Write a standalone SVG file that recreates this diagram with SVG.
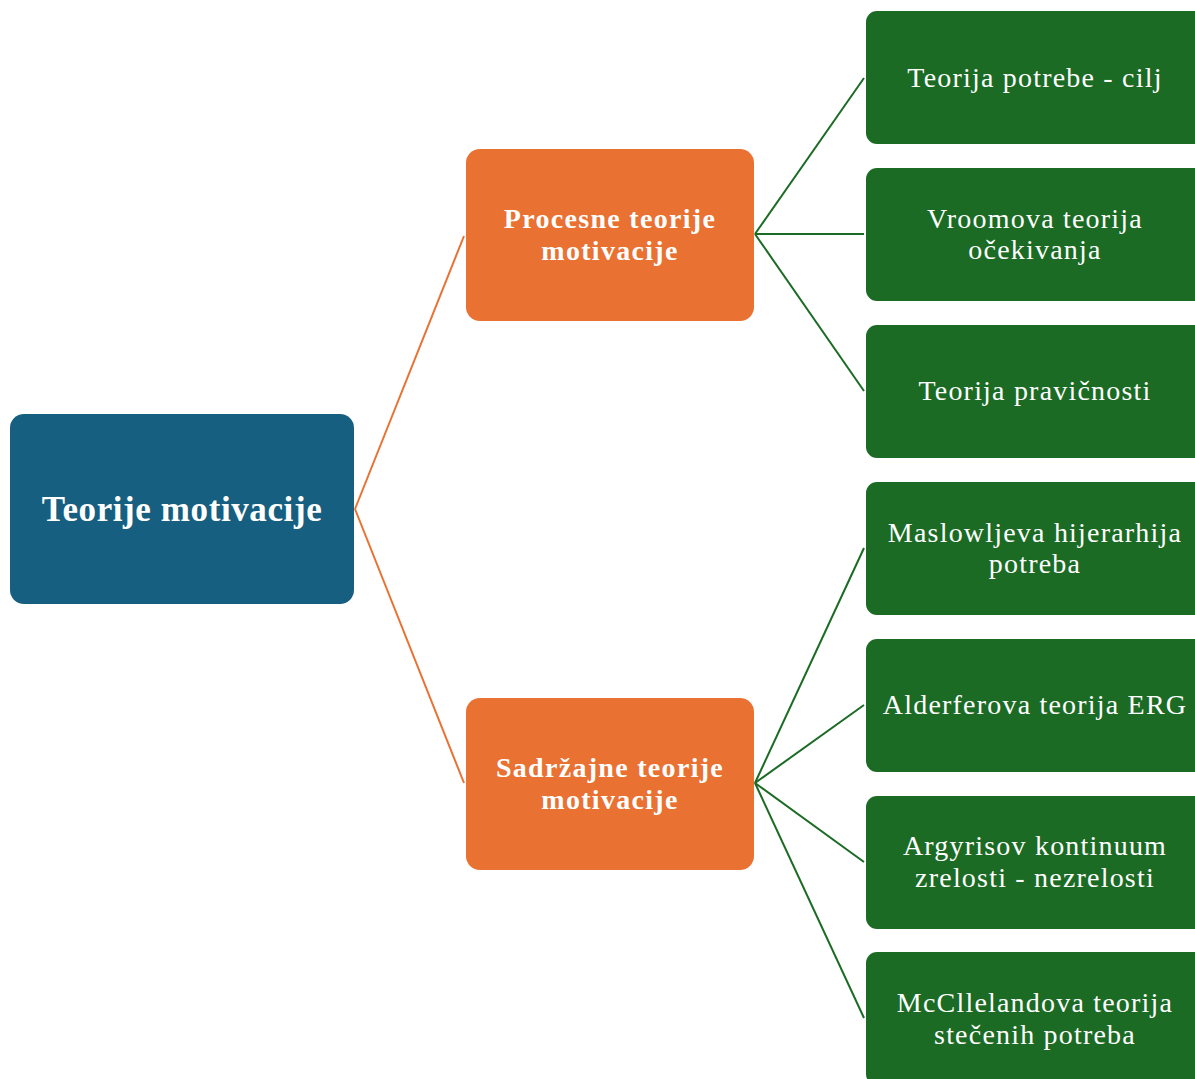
<svg xmlns="http://www.w3.org/2000/svg" width="1195" height="1079" viewBox="0 0 1195 1079">
<style>
.root{fill:#175F80}
.mid{fill:#E97132}
.leaf{fill:#1B6B24}
text{font-family:"Liberation Serif","Times New Roman",serif;fill:#fff;text-anchor:middle}
.t0{font-size:35px;font-weight:bold;letter-spacing:0.6px}
.t1{font-size:28px;font-weight:bold;letter-spacing:1.3px}
.t2{font-size:28px;letter-spacing:1.2px}
.co{stroke:#E97132;stroke-width:2;fill:none}
.cg{stroke:#1B6B24;stroke-width:2;fill:none}
</style>
<rect width="1195" height="1079" fill="#fff"/>
<g id="connectors">
<path class="co" d="M355,509 L464,236"/>
<path class="co" d="M355,509 L464,783"/>
<path class="cg" d="M755,234 L864,78"/>
<path class="cg" d="M755,234 L864,234"/>
<path class="cg" d="M755,234 L864,391"/>
<path class="cg" d="M755,783 L864,548"/>
<path class="cg" d="M755,783 L864,705"/>
<path class="cg" d="M755,783 L864,862"/>
<path class="cg" d="M755,783 L864,1018"/>
</g>
<g id="n0"><rect class="root" x="10" y="414" width="344" height="190" rx="14"/><text class="t0" x="182" y="521">Teorije motivacije</text></g>
<g id="n1"><rect class="mid" x="466" y="149" width="288" height="172" rx="14"/><text class="t1" x="610" y="228">Procesne teorije</text><text class="t1" x="610" y="260">motivacije</text></g>
<g id="n2"><rect class="mid" x="466" y="698" width="288" height="172" rx="14"/><text class="t1" x="610" y="777">Sadržajne teorije</text><text class="t1" x="610" y="809">motivacije</text></g>
<g id="l1"><rect class="leaf" x="866" y="11" width="345" height="133" rx="11"/><text class="t2" x="1035" y="87">Teorija potrebe - cilj</text></g>
<g id="l2"><rect class="leaf" x="866" y="168" width="345" height="133" rx="11"/><text class="t2" x="1035" y="228">Vroomova teorija</text><text class="t2" x="1035" y="259">očekivanja</text></g>
<g id="l3"><rect class="leaf" x="866" y="325" width="345" height="133" rx="11"/><text class="t2" x="1035" y="400">Teorija pravičnosti</text></g>
<g id="l4"><rect class="leaf" x="866" y="482" width="345" height="133" rx="11"/><text class="t2" x="1035" y="542">Maslowljeva hijerarhija</text><text class="t2" x="1035" y="573">potreba</text></g>
<g id="l5"><rect class="leaf" x="866" y="639" width="345" height="133" rx="11"/><text class="t2" x="1035" y="714">Alderferova teorija ERG</text></g>
<g id="l6"><rect class="leaf" x="866" y="796" width="345" height="133" rx="11"/><text class="t2" x="1035" y="855">Argyrisov kontinuum</text><text class="t2" x="1035" y="887">zrelosti - nezrelosti</text></g>
<g id="l7"><rect class="leaf" x="866" y="952" width="345" height="133" rx="11"/><text class="t2" x="1035" y="1012">McCllelandova teorija</text><text class="t2" x="1035" y="1044">stečenih potreba</text></g>
</svg>
